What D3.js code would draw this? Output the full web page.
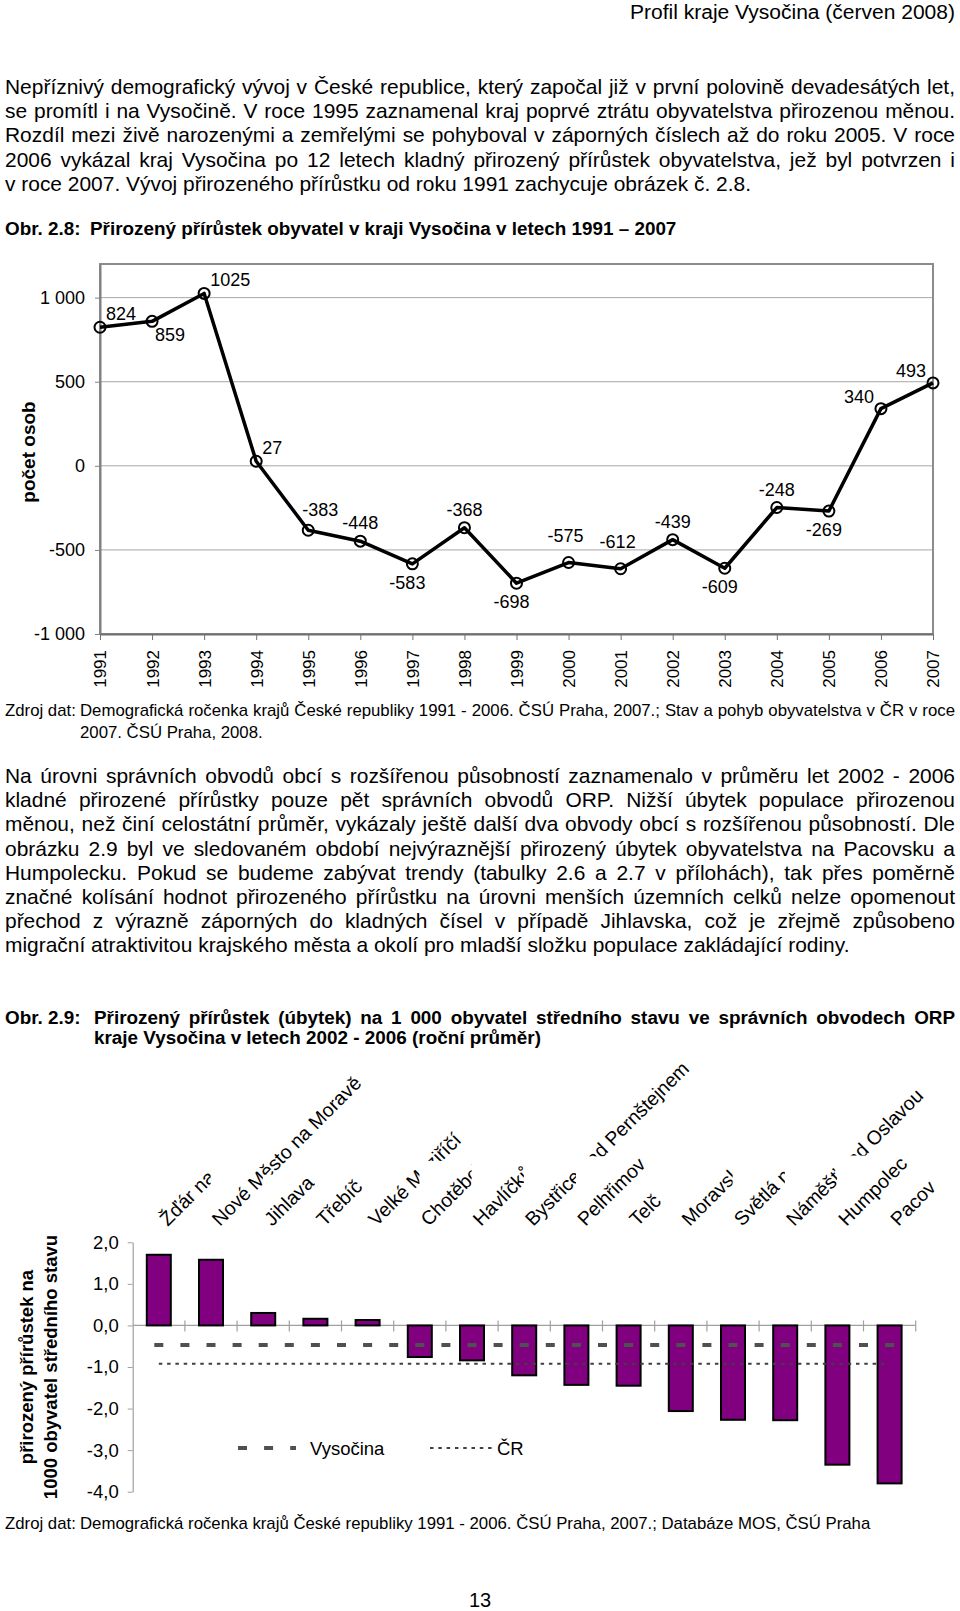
<!DOCTYPE html>
<html>
<head>
<meta charset="utf-8">
<script src="https://cdn.jsdelivr.net/npm/d3@7"></script>
<style>
  body { margin: 0; background: #fff; }
  svg { display: block; }
  text { font-family: "Liberation Sans", Arial, sans-serif; }
</style>
</head>
<body>
<svg id="page" width="960" height="1611"></svg>
<script>
// ---- data: obr. 2.8 ----
const roky = ["1991", "1992", "1993", "1994", "1995", "1996", "1997", "1998", "1999",
  "2000", "2001", "2002", "2003", "2004", "2005", "2006", "2007"];
const prirustek = [824, 859, 1025, 27, -383, -448, -583, -368, -698, -575, -612, -439, -609, -248, -269, 340, 493];
// where each data label sits: pn = right/up, pd = right/down, n = above, np = above right, nv = higher above, d = below, ln = left/up
const popisky = ["pn", "pd", "pn", "pn", "np", "n", "d", "n", "d", "nv", "nv", "n", "d", "n", "d", "ln", "ln"];
const ticky1 = [-1000, -500, 0, 500, 1000];

// ---- data: obr. 2.9 ----
const orp = ["Žďár nad Sázavou", "Nové Město na Moravě", "Jihlava", "Třebíč", "Velké Meziříčí",
  "Chotěboř", "Havlíčkův Brod", "Bystřice nad Pernštejnem", "Pelhřimov", "Telč",
  "Moravské Budějovice", "Světlá nad Sázavou", "Náměšť nad Oslavou", "Humpolec", "Pacov"];
const orpHodnoty = [1.7, 1.58, 0.3, 0.16, 0.13, -0.76, -0.84, -1.2, -1.43, -1.45, -2.06, -2.27, -2.28, -3.35, -3.8];
const vysocina = -0.47;
const cr = -0.92;
const ticky2 = [-4, -3, -2, -1, 0, 1, 2];

// ---- texts ----
const odstavec1 = [
  "Nepříznivý demografický vývoj v České republice, který započal již v první polovině devadesátých let,",
  "se promítl i na Vysočině. V roce 1995 zaznamenal kraj poprvé ztrátu obyvatelstva přirozenou měnou.",
  "Rozdíl mezi živě narozenými a zemřelými se pohyboval v záporných číslech až do roku 2005. V roce",
  "2006 vykázal kraj Vysočina po 12 letech kladný přirozený přírůstek obyvatelstva, jež byl potvrzen i",
  "v roce 2007. Vývoj přirozeného přírůstku od roku 1991 zachycuje obrázek č. 2.8."
];
const odstavec2 = [
  "Na úrovni správních obvodů obcí s rozšířenou působností zaznamenalo v průměru let 2002 - 2006",
  "kladné přirozené přírůstky pouze pět správních obvodů ORP. Nižší úbytek populace přirozenou",
  "měnou, než činí celostátní průměr, vykázaly ještě další dva obvody obcí s rozšířenou působností. Dle",
  "obrázku 2.9 byl ve sledovaném období nejvýraznější přirozený úbytek obyvatelstva na Pacovsku a",
  "Humpolecku. Pokud se budeme zabývat trendy (tabulky 2.6 a 2.7 v přílohách), tak přes poměrně",
  "značné kolísání hodnot přirozeného přírůstku na úrovni menších územních celků nelze opomenout",
  "přechod z výrazně záporných do kladných čísel v případě Jihlavska, což je zřejmě způsobeno",
  "migrační atraktivitou krajského města a okolí pro mladší složku populace zakládající rodiny."
];
const zdroj1 = "Demografická ročenka krajů České republiky 1991 - 2006. ČSÚ Praha, 2007.; Stav a pohyb obyvatelstva v ČR v roce";
const zdroj2 = "Demografická ročenka krajů České republiky 1991 - 2006. ČSÚ Praha, 2007.; Databáze MOS, ČSÚ Praha";

const svg = d3.select("#page");
const FONT = '"Liberation Sans", Arial, sans-serif';

// font size that makes a line exactly w wide
function velikost(txt, w, bold) {
  const t = svg.append("text").attr("font-size", 20).attr("font-weight", bold ? "bold" : null).text(txt);
  const l = t.node().getComputedTextLength();
  t.remove();
  return 20 * w / l;
}

function radek(txt, x, y, opt) {
  const t = svg.append("text")
    .attr("x", x).attr("y", y)
    .attr("font-size", opt.size)
    .attr("font-weight", opt.bold ? "bold" : null)
    .attr("fill", "#000")
    .text(txt);
  const w = t.node().getComputedTextLength();
  const cil = opt.end - x;
  if (opt.justify) {
    const mezery = (txt.match(/ /g) || []).length;
    if (mezery) t.attr("word-spacing", (cil - w) / mezery);
  } else if (Math.abs(w - cil) > 2) {
    t.attr("textLength", cil).attr("lengthAdjust", "spacingAndGlyphs");
  }
  return t;
}

const fsText = (velikost(odstavec1[4], 745, false) + velikost(odstavec2[7], 846, false)) / 2;
const fsZdroj = velikost(zdroj2, 791, false);
const fsObr = velikost("Přirozený přírůstek obyvatel v kraji Vysočina v letech 1991 – 2007", 587, true);

// header + paragraph 1
radek("Profil kraje Vysočina (červen 2008)", 630, 19, {size: 20, end: 955});
odstavec1.forEach((r, i) => radek(r, 5, 94 + i * 24.2, {size: fsText, end: i < odstavec1.length - 1 ? 955 : 750, justify: i < odstavec1.length - 1}));
radek("Obr. 2.8:", 5, 234.5, {size: fsObr, bold: true, end: 82});
radek("Přirozený přírůstek obyvatel v kraji Vysočina v letech 1991 – 2007", 90, 234.5, {size: fsObr, bold: true, end: 677});

// ================= obr. 2.8 =================
const x1 = d3.scalePoint().domain(roky).range([100, 933]);
const y1 = d3.scaleLinear().domain([-1000, 1200]).range([634, 264]);
const fmt1 = d3.formatLocale({decimal: ",", thousands: " ", grouping: [3], currency: ["", ""], minus: "-"}).format(",");
const g1 = svg.append("g");

g1.selectAll("line.grid").data(ticky1.filter(v => v > -1000)).join("line")
  .attr("class", "grid")
  .attr("x1", x1.range()[0]).attr("x2", x1.range()[1])
  .attr("y1", d => y1(d)).attr("y2", d => y1(d))
  .attr("stroke", "#a6a6a6").attr("stroke-width", 1);

g1.append("rect")
  .attr("x", x1.range()[0]).attr("y", y1.range()[1])
  .attr("width", x1.range()[1] - x1.range()[0])
  .attr("height", y1.range()[0] - y1.range()[1])
  .attr("fill", "none").attr("stroke", "#8c8c8c").attr("stroke-width", 2);

g1.append("g")
  .attr("transform", `translate(${x1.range()[0]},0)`)
  .call(d3.axisLeft(y1).tickValues(ticky1).tickSize(5).tickSizeOuter(0).tickPadding(10).tickFormat(fmt1))
  .attr("font-family", FONT)
  .call(g => g.select(".domain").attr("stroke", "#808080").attr("stroke-width", 2))
  .call(g => g.selectAll(".tick line").attr("stroke", "#808080"))
  .call(g => g.selectAll("text").attr("font-size", 18).attr("fill", "#000"));

g1.append("g")
  .attr("transform", `translate(0,${y1(-1000)})`)
  .call(d3.axisBottom(x1).tickSize(6).tickSizeOuter(0))
  .attr("font-family", FONT)
  .call(g => g.select(".domain").attr("stroke", "#707070").attr("stroke-width", 2))
  .call(g => g.selectAll(".tick line").attr("stroke", "#707070"))
  .call(g => g.selectAll("text")
    .attr("font-size", 17).attr("fill", "#000")
    .attr("transform", "rotate(-90)")
    .attr("x", -16).attr("y", 0).attr("dy", "0.35em")
    .attr("text-anchor", "end"));

svg.append("text")
  .attr("transform", `translate(35,452) rotate(-90)`)
  .attr("text-anchor", "middle")
  .attr("font-size", 19).attr("font-weight", "bold")
  .text("počet osob");

const cara1 = d3.line().x((d, i) => x1(roky[i])).y(d => y1(d));
g1.append("path").datum(prirustek)
  .attr("d", cara1)
  .attr("fill", "none").attr("stroke", "#000").attr("stroke-width", 3.5)
  .attr("stroke-linejoin", "round");

g1.selectAll("circle.bod").data(prirustek).join("circle")
  .attr("class", "bod")
  .attr("cx", (d, i) => x1(roky[i])).attr("cy", d => y1(d))
  .attr("r", 5.5)
  .attr("fill", "none").attr("stroke", "#000").attr("stroke-width", 2);

const poloha = {
  pn: {a: "start", dx: 6, dy: -7},
  pd: {a: "start", dx: 3, dy: 20},
  n: {a: "middle", dx: 0, dy: -12},
  np: {a: "middle", dx: 12, dy: -14},
  nv: {a: "middle", dx: -3, dy: -21},
  d: {a: "middle", dx: -5, dy: 25},
  ln: {a: "end", dx: -7, dy: -6}
};
g1.selectAll("text.popisek").data(prirustek).join("text")
  .attr("class", "popisek")
  .attr("x", (d, i) => x1(roky[i]) + poloha[popisky[i]].dx)
  .attr("y", (d, i) => y1(d) + poloha[popisky[i]].dy)
  .attr("text-anchor", (d, i) => poloha[popisky[i]].a)
  .attr("font-size", 18)
  .text(d => d);

// source 1
radek("Zdroj dat:", 5, 716, {size: fsZdroj, end: 75});
radek(zdroj1, 80, 716, {size: fsZdroj, end: 955, justify: true});
radek("2007. ČSÚ Praha, 2008.", 80, 737.5, {size: fsZdroj, end: 264});

// paragraph 2
odstavec2.forEach((r, i) => radek(r, 5, 783 + i * 24.2, {size: fsText, end: i < odstavec2.length - 1 ? 955 : 851, justify: i < odstavec2.length - 1}));

radek("Obr. 2.9:", 5, 1023.5, {size: fsObr, bold: true, end: 82});
radek("Přirozený přírůstek (úbytek) na 1 000 obyvatel středního stavu ve správních obvodech ORP", 94, 1023.5, {size: fsObr, bold: true, end: 955, justify: true});
radek("kraje Vysočina v letech 2002 - 2006 (roční průměr)", 94, 1044, {size: fsObr, bold: true, end: 542});

// ================= obr. 2.9 =================
const x2 = d3.scaleBand().domain(orp).range([132.7, 915.7]).padding(0);
const y2 = d3.scaleLinear().domain([-4, 2]).range([1491.7, 1242.3]);
const fmt2 = d3.formatLocale({decimal: ",", thousands: " ", grouping: [3], currency: ["", ""], minus: "-"}).format(".1f");
const g2 = svg.append("g");
const sirkaSloupce = x2.bandwidth() * 0.46;

g2.append("g")
  .attr("transform", `translate(${x2.range()[0]},0)`)
  .call(d3.axisLeft(y2).tickValues(ticky2).tickSize(5).tickSizeOuter(0).tickPadding(9).tickFormat(fmt2))
  .attr("font-family", FONT)
  .call(g => g.select(".domain").attr("stroke", "#a0a0a0").attr("stroke-width", 1.2))
  .call(g => g.selectAll(".tick line").attr("stroke", "#a0a0a0"))
  .call(g => g.selectAll("text").attr("font-size", 18.5).attr("fill", "#000"));

// category axis at zero with ticks between categories
g2.append("line")
  .attr("x1", x2.range()[0]).attr("x2", x2.range()[1])
  .attr("y1", y2(0)).attr("y2", y2(0))
  .attr("stroke", "#a0a0a0").attr("stroke-width", 1.2);
g2.selectAll("line.hranice").data(orp).join("line")
  .attr("class", "hranice")
  .attr("x1", d => x2(d) + x2.bandwidth()).attr("x2", d => x2(d) + x2.bandwidth())
  .attr("y1", y2(0) - 5).attr("y2", y2(0) + 6)
  .attr("stroke", "#a0a0a0").attr("stroke-width", 1.2);

g2.selectAll("rect.sloupec").data(orpHodnoty).join("rect")
  .attr("class", "sloupec")
  .attr("x", (d, i) => x2(orp[i]) + (x2.bandwidth() - sirkaSloupce) / 2)
  .attr("width", sirkaSloupce)
  .attr("y", d => y2(Math.max(0, d)))
  .attr("height", d => Math.abs(y2(d) - y2(0)))
  .attr("fill", "#800080").attr("stroke", "#000").attr("stroke-width", 2);

const stredPrvni = x2(orp[0]) + x2.bandwidth() / 2;
const stredPosledni = x2(orp[orp.length - 1]) + x2.bandwidth() / 2;
const carkyVys = `9,${x2.bandwidth() / 2 - 9}`;
g2.append("line")
  .attr("x1", stredPrvni - 4.5).attr("x2", stredPosledni + 4.5)
  .attr("y1", y2(vysocina)).attr("y2", y2(vysocina))
  .attr("stroke", "#505050").attr("stroke-width", 4)
  .attr("stroke-dasharray", carkyVys);
g2.append("line")
  .attr("x1", stredPrvni).attr("x2", stredPosledni)
  .attr("y1", y2(cr)).attr("y2", y2(cr))
  .attr("stroke", "#404040").attr("stroke-width", 2)
  .attr("stroke-dasharray", "3.5,4.8");

// legend
const yLeg = y2(-2.95);
g2.append("line")
  .attr("x1", 238).attr("x2", 296).attr("y1", yLeg).attr("y2", yLeg)
  .attr("stroke", "#505050").attr("stroke-width", 4)
  .attr("stroke-dasharray", carkyVys);
g2.append("text").attr("x", 310).attr("y", yLeg + 6.5).attr("font-size", 18.5).text("Vysočina");
g2.append("line")
  .attr("x1", 430).attr("x2", 493).attr("y1", yLeg).attr("y2", yLeg)
  .attr("stroke", "#404040").attr("stroke-width", 2)
  .attr("stroke-dasharray", "3.5,4.8");
g2.append("text").attr("x", 497).attr("y", yLeg + 6.5).attr("font-size", 18.5).text("ČR");

// y title
[["přirozený přírůstek na", 33], ["1000 obyvatel středního stavu", 57]].forEach(([t, x]) => {
  svg.append("text")
    .attr("transform", `translate(${x},1367) rotate(-90)`)
    .attr("text-anchor", "middle")
    .attr("font-size", 18.5).attr("font-weight", "bold")
    .text(t);
});

// rotated category labels; each sits on a white box that hides the earlier labels behind it
const uhel = -45;
const fsStitek = 19.5;
const stitky = svg.append("g").selectAll("g.stitek").data(orp).join("g")
  .attr("class", "stitek")
  .attr("transform", d => `translate(${x2(d) + x2.bandwidth() / 2 + 9},1227)`);
stitky.each(function(d) {
  const g = d3.select(this);
  const t = g.append("text")
    .attr("transform", `rotate(${uhel})`)
    .attr("font-size", fsStitek)
    .text(d);
  const w = t.node().getComputedTextLength();
  const r = uhel * Math.PI / 180, c = Math.cos(r), s = Math.sin(r);
  const horni = -0.68 * fsStitek, dolni = 0.1 * fsStitek;
  const rohy = [[0, horni], [w, horni], [0, dolni], [w, dolni]]
    .map(([px, py]) => [px * c - py * s, px * s + py * c]);
  const xs = rohy.map(p => p[0]), ys = rohy.map(p => p[1]);
  g.insert("rect", "text")
    .attr("x", d3.min(xs)).attr("y", d3.min(ys))
    .attr("width", d3.max(xs) - d3.min(xs)).attr("height", d3.max(ys) - d3.min(ys))
    .attr("fill", "#fff");
});

// source 2 + page number
radek("Zdroj dat:", 5, 1529, {size: fsZdroj, end: 75});
radek(zdroj2, 80, 1529, {size: fsZdroj, end: 871});
svg.append("text").attr("x", 480).attr("y", 1607).attr("text-anchor", "middle").attr("font-size", 20).text("13");
</script>
</body>
</html>
